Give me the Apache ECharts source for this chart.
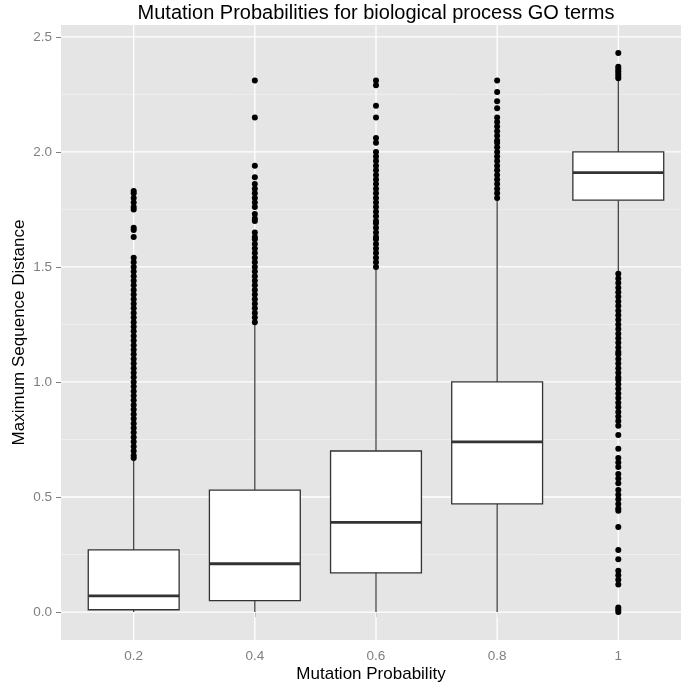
<!DOCTYPE html>
<html><head><meta charset="utf-8">
<script src="https://cdn.jsdelivr.net/npm/echarts@6/dist/echarts.min.js"></script>
<style>html,body{margin:0;padding:0;background:#fff}#c{width:681px;height:685px}</style>
</head><body><div id="c"></div>
<script>
// ---- data ----
const categories = ['0.2', '0.4', '0.6', '0.8', '1'];
const xPositions = [1, 2, 3, 4, 5];
const whiskerLow  = [0.00, 0.00, 0.00, 0.00, 1.48];
const q1          = [0.01, 0.05, 0.17, 0.47, 1.79];
const median      = [0.07, 0.21, 0.39, 0.74, 1.91];
const q3          = [0.27, 0.53, 0.70, 1.00, 2.00];
const whiskerHigh = [0.66, 1.25, 1.49, 1.79, 2.31];

const outliers02 = [1.83,1.82,1.80,1.78,1.76,1.75,1.67,1.66,1.63,
  1.54,1.52,1.50,1.48,1.46,1.44,1.42,1.40,1.38,1.36,1.34,1.32,1.30,1.28,1.26,1.24,1.22,1.20,
  1.18,1.16,1.14,1.12,1.10,1.08,1.06,1.04,1.02,1.00,0.98,0.96,0.94,0.92,0.90,0.88,0.86,0.84,
  0.82,0.80,0.78,0.76,0.74,0.72,0.70,0.68,0.67];
const outliers04 = [2.31,2.15,1.94,1.89,1.86,1.84,1.82,1.80,1.78,1.76,1.73,1.71,1.70,
  1.65,1.63,1.62,1.60,1.58,1.56,1.54,1.52,1.50,1.48,1.46,1.44,1.42,1.40,1.38,1.36,1.34,1.32,
  1.30,1.28,1.26];
const outliers06 = [2.31,2.29,2.20,2.15,2.06,2.04,2.00,1.98,1.96,1.94,1.92,1.90,1.88,1.86,
  1.84,1.82,1.80,1.78,1.76,1.74,1.72,1.70,1.69,1.67,1.65,1.63,1.62,1.60,1.58,1.56,1.54,1.52,1.50];
const outliers08 = [2.31,2.26,2.22,2.19,2.15,2.13,2.11,2.09,2.07,2.05,2.04,2.02,2.00,1.98,
  1.96,1.94,1.92,1.90,1.88,1.86,1.84,1.82,1.80];
const outliers10 = [2.43,2.37,2.36,2.35,2.34,2.33,2.32,
  1.47,1.45,1.43,1.41,1.39,1.37,1.35,1.33,1.31,1.29,1.27,1.25,1.23,1.21,1.19,1.17,1.15,1.13,
  1.12,1.10,1.08,1.06,1.04,1.02,1.01,0.99,0.97,0.95,0.93,0.91,
  0.89,0.87,0.85,0.83,0.81,0.77,0.71,0.67,0.65,0.63,0.60,0.58,0.56,0.53,0.51,0.49,0.47,0.45,0.44,
  0.37,0.27,0.23,0.18,0.16,0.14,0.12,0.02,0.01,0.00];
const outliers = [outliers02, outliers04, outliers06, outliers08, outliers10];

const yMajorTicks = [0, 0.5, 1.0, 1.5, 2.0, 2.5];
const yMinorTicks = [0.25, 0.75, 1.25, 1.75, 2.25];
// visible axis window (the reference's panel is cut off at the right edge)
const xMin = 0.4, xMax = 5.5176, yMin = -0.1215, yMax = 2.5515;
const boxWidthUnits = 0.75;

// ---- chart ----
const FONT = '"Liberation Sans", Arial, Helvetica, sans-serif';
const chart = echarts.init(document.getElementById('c'), null, {renderer: 'canvas'});

const boxData = xPositions.map((x, i) => [x, whiskerLow[i], q1[i], median[i], q3[i], whiskerHigh[i]]);
const outlierData = [];
outliers.forEach((arr, i) => arr.forEach(v => outlierData.push([xPositions[i], v])));

function hLines(values, color, width) {
  return {
    type: 'custom', z: 1, silent: true,
    data: values.map(v => [xMin, v]),
    encode: {x: 0, y: 1},
    renderItem: (params, api) => {
      const cs = params.coordSys;
      const y = api.coord([xMin, api.value(1)])[1];
      return {type: 'line', shape: {x1: cs.x, y1: y, x2: cs.x + cs.width, y2: y},
              style: {stroke: color, lineWidth: width}};
    }
  };
}
function vLines(values, color, width) {
  return {
    type: 'custom', z: 1, silent: true,
    data: values.map(v => [v, yMin]),
    encode: {x: 0, y: 1},
    renderItem: (params, api) => {
      const cs = params.coordSys;
      const x = api.coord([api.value(0), yMin])[0];
      return {type: 'line', shape: {x1: x, y1: cs.y, x2: x, y2: cs.y + cs.height},
              style: {stroke: color, lineWidth: width}};
    }
  };
}

const option = {
  animation: false,
  title: {
    text: 'Mutation Probabilities for biological process GO terms',
    left: 376, top: 3, textAlign: 'center', padding: 0,
    textStyle: {fontFamily: FONT, fontSize: 20, fontWeight: 'normal', color: '#000'}
  },
  grid: {left: 61, top: 25, width: 620, height: 615, show: true,
         backgroundColor: '#E5E5E5', borderWidth: 0, outerBoundsMode: 'none', containLabel: false},
  xAxis: {
    type: 'value', min: xMin, max: xMax,
    name: 'Mutation Probability', nameLocation: 'middle', nameGap: 26, nameMoveOverlap: false,
    nameTextStyle: {fontFamily: FONT, fontSize: 17, color: '#000'},
    axisLine: {show: false},
    axisTick: {show: true, customValues: xPositions, length: 5,
               lineStyle: {color: '#7f7f7f', width: 1}},
    axisLabel: {customValues: xPositions, formatter: v => categories[xPositions.indexOf(Math.round(v))],
                color: '#7f7f7f', fontFamily: FONT, fontSize: 13.5, margin: 9},
    splitLine: {show: false}
  },
  yAxis: {
    type: 'value', min: yMin, max: yMax,
    name: 'Maximum Sequence Distance', nameLocation: 'middle', nameGap: 33, nameMoveOverlap: false,
    nameTextStyle: {fontFamily: FONT, fontSize: 17, color: '#000'},
    axisLine: {show: false},
    axisTick: {show: true, customValues: yMajorTicks, length: 5,
               lineStyle: {color: '#7f7f7f', width: 1}},
    axisLabel: {customValues: yMajorTicks, formatter: v => v.toFixed(1),
                color: '#7f7f7f', fontFamily: FONT, fontSize: 13.5, margin: 9},
    splitLine: {show: false}
  },
  series: [
    hLines(yMinorTicks, '#F2F2F2', 0.7),
    hLines(yMajorTicks, '#FFFFFF', 1.3),
    vLines(xPositions, '#FFFFFF', 1.3),
    {
      type: 'custom', z: 3,
      data: boxData,
      encode: {x: 0, y: [1, 2, 3, 4, 5]},
      renderItem: (params, api) => {
        const x = api.value(0);
        const lo = api.coord([x, api.value(1)]);
        const b1 = api.coord([x, api.value(2)]);
        const md = api.coord([x, api.value(3)]);
        const b3 = api.coord([x, api.value(4)]);
        const hi = api.coord([x, api.value(5)]);
        const hw = api.size([boxWidthUnits, 0])[0] / 2;
        const stroke = '#333333';
        return {type: 'group', children: [
          {type: 'line', shape: {x1: lo[0], y1: lo[1], x2: lo[0], y2: b1[1]}, style: {stroke, lineWidth: 1.2}},
          {type: 'line', shape: {x1: hi[0], y1: b3[1], x2: hi[0], y2: hi[1]}, style: {stroke, lineWidth: 1.2}},
          {type: 'rect', shape: {x: md[0] - hw, y: b3[1], width: 2 * hw, height: b1[1] - b3[1]},
           style: {fill: '#FFFFFF', stroke, lineWidth: 1.3}},
          {type: 'line', shape: {x1: md[0] - hw, y1: md[1], x2: md[0] + hw, y2: md[1]},
           style: {stroke, lineWidth: 2.8}}
        ]};
      }
    },
    {
      type: 'scatter', z: 4,
      data: outlierData,
      symbol: 'circle', symbolSize: 6,
      itemStyle: {color: '#000000', opacity: 1}
    }
  ]
};
chart.setOption(option);
</script>
</body></html>
